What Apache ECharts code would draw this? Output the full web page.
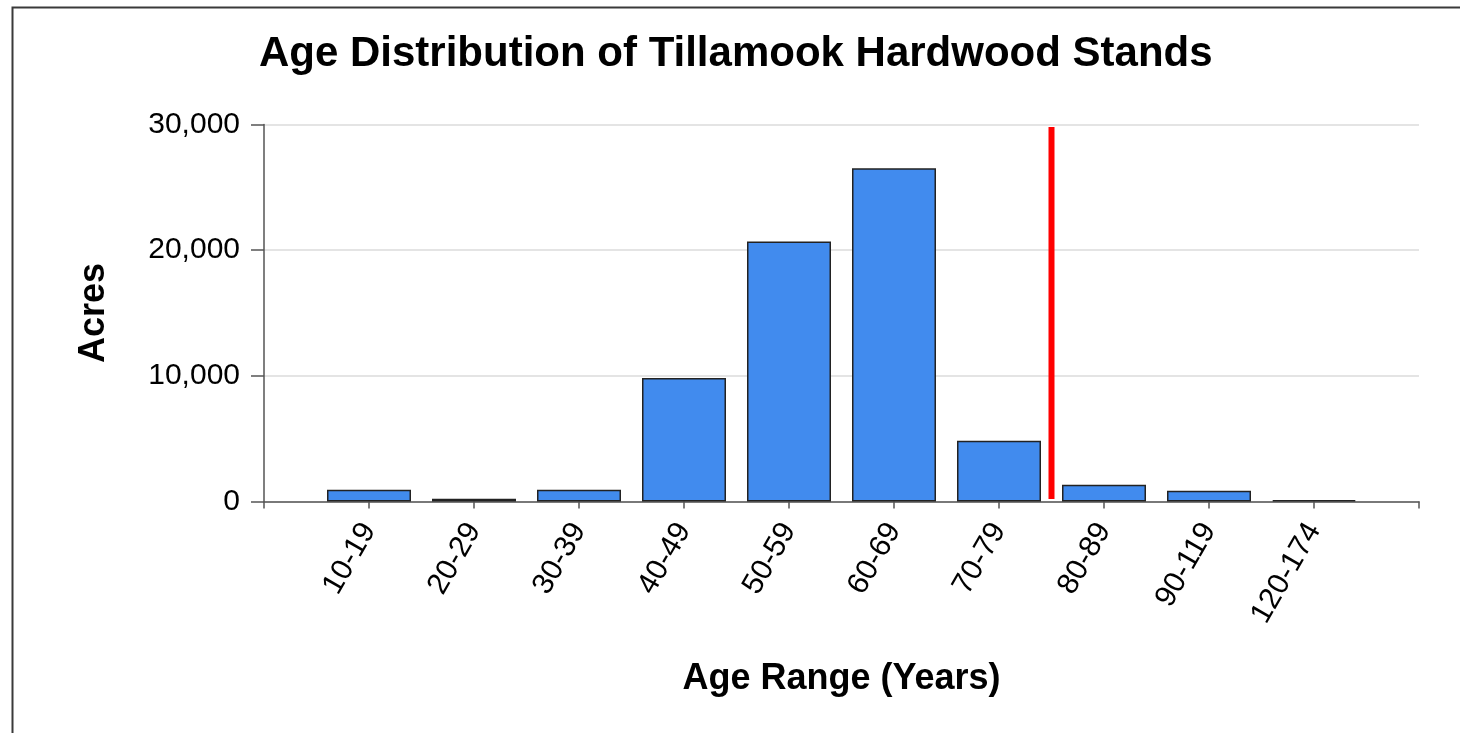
<!DOCTYPE html>
<html>
<head>
<meta charset="utf-8">
<script src="https://cdn.jsdelivr.net/npm/echarts@6/dist/echarts.min.js"></script>
<style>
  html, body { margin: 0; padding: 0; background: #ffffff; }
  #chart { width: 1460px; height: 733px; }
</style>
</head>
<body>
<div id="chart"></div>
<script>
const categories = ['10-19', '20-29', '30-39', '40-49', '50-59', '60-69', '70-79', '80-89', '90-119', '120-174'];
const acres = [930, 215, 930, 9820, 20680, 26510, 4830, 1330, 850, 110];
const yTicks = [0, 10000, 20000, 30000];
const markerPosition = 7.5;
const markerRange = [200, 29800];

const barData = categories.map((c, i) => [i + 1, acres[i]]);
const markerData = markerRange.map(v => [markerPosition, v]);

const chart = echarts.init(document.getElementById('chart'), null, { renderer: 'canvas' });
const FONT = 'Liberation Sans, Arial, sans-serif';

chart.setOption({
  backgroundColor: '#ffffff',
  animation: false,
  title: {
    text: 'Age Distribution of Tillamook Hardwood Stands',
    left: 254,
    top: 28,
    textStyle: { fontFamily: FONT, fontSize: 42, fontWeight: 'bold', color: '#000000' }
  },
  graphic: [{
    type: 'rect',
    left: 10, top: 5,
    shape: { width: 1600, height: 900 },
    style: { fill: 'none', stroke: '#3a3a3a', lineWidth: 2 },
    silent: true
  }],
  grid: { left: 264, right: 41, top: 124.5, bottom: 231.5, containLabel: false },
  xAxis: {
    type: 'value',
    min: 0,
    max: categories.length + 1,
    interval: 1,
    name: 'Age Range (Years)',
    nameLocation: 'middle',
    nameGap: 160,
    nameTextStyle: { fontFamily: FONT, fontSize: 36, fontWeight: 'bold', color: '#000000' },
    axisLine: { show: true, lineStyle: { color: '#555555', width: 1.5 } },
    axisTick: { show: true, length: 7, lineStyle: { color: '#555555', width: 1.5 } },
    splitLine: { show: false },
    axisLabel: {
      rotate: 60,
      margin: 24,
      fontFamily: FONT, fontSize: 30, color: '#000000',
      formatter: v => categories[v - 1] || ''
    }
  },
  yAxis: {
    type: 'value',
    min: yTicks[0],
    max: yTicks[yTicks.length - 1],
    interval: 10000,
    name: 'Acres',
    nameLocation: 'middle',
    nameRotate: 90,
    nameGap: 152,
    nameTextStyle: { fontFamily: FONT, fontSize: 36, fontWeight: 'bold', color: '#000000' },
    axisLine: { show: true, lineStyle: { color: '#555555', width: 1.5 } },
    axisTick: { show: true, length: 13, lineStyle: { color: '#555555', width: 1.5 } },
    splitLine: { show: true, lineStyle: { color: '#e4e4e4', width: 2 } },
    axisLabel: {
      margin: 24,
      fontFamily: FONT, fontSize: 30, color: '#000000',
      formatter: v => v.toLocaleString('en-US')
    }
  },
  series: [
    {
      type: 'bar',
      data: barData,
      barWidth: 84,
      itemStyle: { color: '#418bee', borderColor: '#222222', borderWidth: 1.5 }
    },
    {
      type: 'line',
      data: markerData,
      symbol: 'none',
      lineStyle: { color: '#ff0000', width: 6, cap: 'butt' },
      z: 5
    }
  ]
});
</script>
</body>
</html>
